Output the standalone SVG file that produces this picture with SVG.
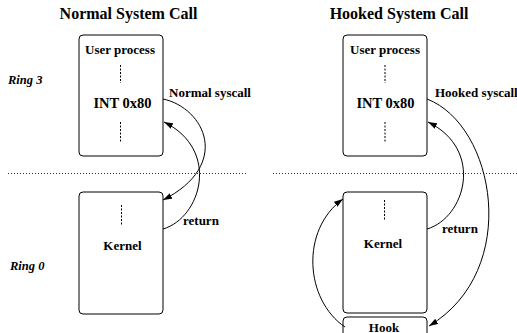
<svg xmlns="http://www.w3.org/2000/svg" width="517" height="333" viewBox="0 0 517 333">
<style>
  text { font-family: "Liberation Serif", "Times New Roman", serif; font-weight: bold; fill: #000; }
  .title { font-size: 16px; }
  .lbl { font-size: 13px; }
  .int { font-size: 14.5px; }
  .ring { font-size: 12.5px; font-style: italic; }
  .box { fill: #fff; stroke: #000; stroke-width: 1; }
  .vdot { stroke: #000; stroke-width: 1; stroke-dasharray: 2 1.5; }
  .sep { stroke: #000; stroke-width: 0.8; stroke-dasharray: 1 2; }
  .conn { fill: none; stroke: #000; stroke-width: 1; marker-end: url(#arr); }
</style>
<defs>
  <marker id="arr" markerUnits="userSpaceOnUse" markerWidth="10" markerHeight="6" refX="9" refY="3" orient="auto">
    <path d="M0,0 L9,3 L0,6 Z" fill="#000"/>
  </marker>
</defs>
<rect width="517" height="333" fill="#fff"/>

<text class="title" x="128.5" y="18.5" text-anchor="middle">Normal System Call</text>
<text class="title" x="399" y="18.5" text-anchor="middle">Hooked System Call</text>

<text class="ring" x="8" y="84">Ring 3</text>
<text class="ring" x="10" y="270">Ring 0</text>

<line class="sep" x1="8" y1="173.5" x2="247" y2="173.5"/>
<line class="sep" x1="273" y1="173.5" x2="517" y2="173.5"/>

<g id="user-left">
  <rect class="box" x="79" y="35" width="84" height="121" rx="4"/>
  <text class="lbl" x="120" y="53.5" text-anchor="middle">User process</text>
  <line class="vdot" x1="120.5" y1="65" x2="120.5" y2="83"/>
  <text class="int" x="122.5" y="108" text-anchor="middle">INT 0x80</text>
  <line class="vdot" x1="120.5" y1="122" x2="120.5" y2="142"/>
</g>
<g id="kernel-left">
  <rect class="box" x="79" y="192" width="84" height="122" rx="4"/>
  <line class="vdot" x1="121.5" y1="205" x2="121.5" y2="226"/>
  <text class="lbl" x="122.5" y="250" text-anchor="middle">Kernel</text>
</g>

<g id="user-right">
  <rect class="box" x="343" y="35" width="84" height="121" rx="4"/>
  <text class="lbl" x="385" y="53.5" text-anchor="middle">User process</text>
  <line class="vdot" x1="385" y1="65" x2="385" y2="83"/>
  <text class="int" x="385.5" y="108" text-anchor="middle">INT 0x80</text>
  <line class="vdot" x1="385" y1="122" x2="385" y2="142"/>
</g>
<g id="kernel-right">
  <rect class="box" x="343" y="192" width="84" height="121" rx="4"/>
  <line class="vdot" x1="384.5" y1="200" x2="384.5" y2="221"/>
  <text class="lbl" x="383" y="247.5" text-anchor="middle">Kernel</text>
</g>
<g id="hook">
  <rect class="box" x="343" y="317" width="84" height="30" rx="4"/>
  <text class="lbl" x="384" y="331.5" text-anchor="middle">Hook</text>
</g>

<g id="connectors">
  <path class="conn" d="M163,99 C205,108 232,165 163,200"/>
  <path class="conn" d="M163,229 C201,218 221,150 164,122"/>
  <path class="conn" d="M427,99 C495,125 522,270 429,326"/>
  <path class="conn" d="M427,229 C465,218 485,150 428,122"/>
  <path class="conn" d="M345,327 C305,300 300,230 343,199"/>
  <text class="lbl" x="169" y="97">Normal syscall</text>
  <text class="lbl" x="183" y="225">return</text>
  <text class="lbl" x="435" y="97">Hooked syscall</text>
  <text class="lbl" x="442" y="233">return</text>
</g>
</svg>
